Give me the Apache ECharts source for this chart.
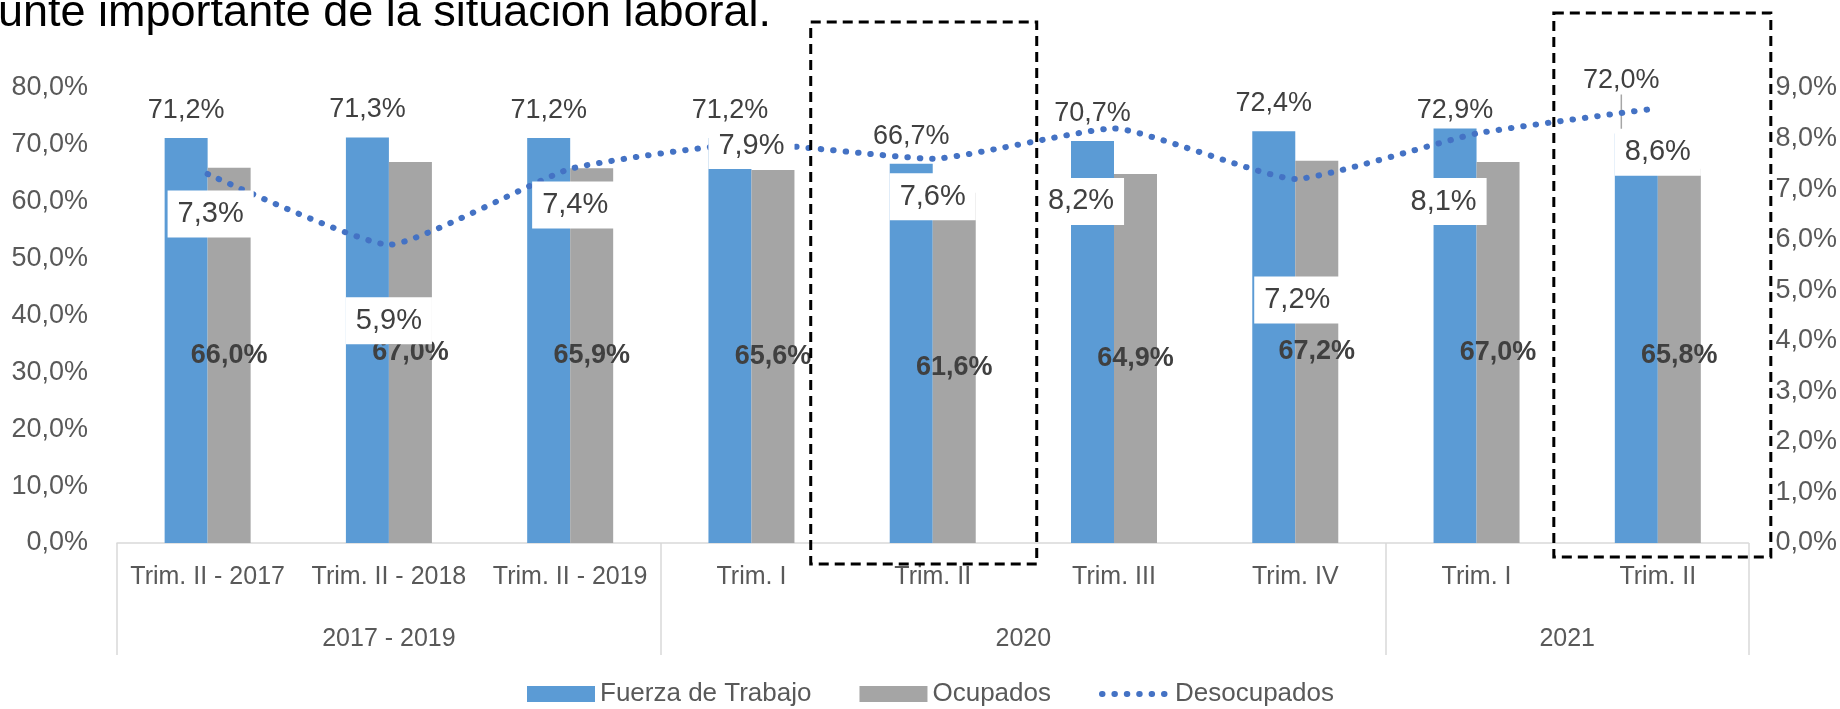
<!DOCTYPE html>
<html>
<head>
<meta charset="utf-8">
<script src="https://cdn.jsdelivr.net/npm/echarts@6/dist/echarts.min.js"></script>
<style>
  html, body { margin: 0; padding: 0; background: #fff; }
  #chart { width: 1840px; height: 709px; }
</style>
</head>
<body>
<div id="chart"></div>
<script>
// datos del gráfico
const categories = ['Trim. II - 2017', 'Trim. II - 2018', 'Trim. II - 2019', 'Trim. I', 'Trim. II', 'Trim. III', 'Trim. IV', 'Trim. I', 'Trim. II'];
const groupNames = ['2017 - 2019', '2020', '2021'];
const groupSizes = [3, 4, 2];
const fuerzaTrabajo = [71.2, 71.3, 71.2, 71.2, 66.7, 70.7, 72.4, 72.9, 72.0];
const ocupados = [66.0, 67.0, 65.9, 65.6, 61.6, 64.9, 67.2, 67.0, 65.8];
const desocupados = [7.3, 5.9, 7.4, 7.9, 7.6, 8.2, 7.2, 8.1, 8.6];
const leftTicks = [0, 10, 20, 30, 40, 50, 60, 70, 80];
const rightTicks = [0, 1, 2, 3, 4, 5, 6, 7, 8, 9];

// desplazamiento de las etiquetas (estilo, no datos)
const desocLabelOffset = [[3, 40], [0, 76], [5, 36], [0, 2], [0, 38], [-33, 73], [2, 121], [-33, 68], [0, 44]];

const NARROW = '"Liberation Sans Narrow", "Liberation Sans", Arial, sans-serif';
const SANS = '"Liberation Sans", Arial, sans-serif';
const DOTS = { color: '#4472C4', width: 6, type: [0.5, 11.9], cap: 'round' };

const fmt = v => v.toFixed(1).replace('.', ',') + '%';

// eje de grupos: medias categorías (boundaryGap false), 2*n + 1 posiciones
const groupAxis = new Array(categories.length * 2 + 1).fill('');
const sepIdx = [0];
let acc = 0;
groupSizes.forEach((n, i) => {
  groupAxis[acc * 2 + n] = groupNames[i];
  acc += n;
  sepIdx.push(acc * 2);
});

const chart = echarts.init(document.getElementById('chart'));

const option = {
  animation: false,
  textStyle: { fontFamily: SANS },
  title: {
    text: 'unte importante de la situación laboral.',
    left: -2,
    top: -9,
    padding: 0,
    textStyle: { fontFamily: SANS, fontSize: 45, fontWeight: 'normal', color: '#000' }
  },
  grid: { left: 117, right: 90, top: 88, bottom: 166 },
  legend: {
    top: 681,
    left: 527,
    padding: 0,
    itemWidth: 68,
    itemHeight: 16,
    itemGap: 48,
    textStyle: { fontFamily: SANS, fontSize: 26, color: '#595959' },
    data: [
      { name: 'Fuerza de Trabajo', icon: 'rect' },
      { name: 'Ocupados', icon: 'rect' },
      { name: 'Desocupados', itemStyle: { opacity: 0 }, lineStyle: DOTS }
    ]
  },
  xAxis: [
    {
      type: 'category',
      data: categories,
      axisLine: { lineStyle: { color: '#D9D9D9', width: 1.5 } },
      axisTick: { show: false },
      axisLabel: { interval: 0, margin: 22, fontFamily: SANS, fontSize: 25, color: '#595959' }
    },
    {
      type: 'category',
      data: groupAxis,
      position: 'bottom',
      boundaryGap: false,
      axisLine: { show: false },
      axisTick: {
        show: true,
        length: 112,
        interval: idx => sepIdx.indexOf(idx) >= 0,
        lineStyle: { color: '#D9D9D9', width: 1.5 }
      },
      axisLabel: { interval: 0, margin: 84, fontFamily: SANS, fontSize: 25, color: '#595959' }
    }
  ],
  yAxis: [
    {
      type: 'value',
      min: leftTicks[0],
      max: leftTicks[leftTicks.length - 1],
      interval: 10,
      splitLine: { show: false },
      axisLine: { show: false },
      axisTick: { show: false },
      axisLabel: { margin: 29, fontFamily: NARROW, fontSize: 27, color: '#595959', formatter: v => fmt(v) }
    },
    {
      type: 'value',
      min: rightTicks[0],
      max: rightTicks[rightTicks.length - 1],
      interval: 1,
      splitLine: { show: false },
      axisLine: { show: false },
      axisTick: { show: false },
      axisLabel: { margin: 27, fontFamily: NARROW, fontSize: 27, color: '#595959', formatter: v => fmt(v) }
    }
  ],
  series: [
    {
      name: 'Fuerza de Trabajo',
      type: 'bar',
      barWidth: 43,
      barGap: '0%',
      itemStyle: { color: '#5B9BD5' },
      data: fuerzaTrabajo.map((v, i) => i === fuerzaTrabajo.length - 1
        ? { value: v, labelLine: { show: true } }
        : v),
      label: {
        show: true,
        position: 'top',
        distance: 14,
        fontFamily: NARROW,
        fontSize: 27,
        color: '#404040',
        formatter: p => fmt(p.value)
      },
      labelLine: { show: false, lineStyle: { color: '#A6A6A6', width: 1.5 } },
      labelLayout: p => {
        if (p.dataIndex === 7) return { dy: 10 };
        if (p.dataIndex === 8) return { dx: -15, dy: -25 };
        return {};
      }
    },
    {
      name: 'Ocupados',
      type: 'bar',
      barWidth: 43,
      itemStyle: { color: '#A5A5A5' },
      data: ocupados,
      label: {
        show: true,
        position: 'inside',
        fontFamily: NARROW,
        fontSize: 27,
        fontWeight: 'bold',
        color: '#404040',
        formatter: p => fmt(p.value)
      }
    },
    {
      name: 'Desocupados',
      type: 'line',
      yAxisIndex: 1,
      smooth: 0.15,
      symbol: 'circle',
      symbolSize: 0.1,
      showSymbol: true,
      lineStyle: DOTS,
      itemStyle: { color: '#4472C4' },
      data: desocupados.map((v, i) => ({ value: v, label: { offset: desocLabelOffset[i] } })),
      label: {
        show: true,
        position: 'inside',
        fontFamily: NARROW,
        fontSize: 29,
        color: '#404040',
        backgroundColor: '#fff',
        padding: [9, 10],
        formatter: p => fmt(p.value)
      }
    }
  ]
};

chart.setOption(option);

// recuadros punteados alrededor de Trim. II 2020 y Trim. II 2021
function drawBoxes() {
  const y0 = chart.convertToPixel({ yAxisIndex: 0 }, 0);
  const yTop = chart.convertToPixel({ yAxisIndex: 0 }, 80);
  const boxes = [
    { idx: 4, l: -122, r: 104, t: -66, b: 21 },
    { idx: 8, l: -104, r: 113, t: -75, b: 14 }
  ];
  chart.setOption({
    graphic: boxes.map(b => {
      const cx = chart.convertToPixel({ xAxisIndex: 0 }, b.idx);
      return {
        type: 'rect',
        silent: true,
        z: 100,
        shape: { x: cx + b.l, y: yTop + b.t, width: b.r - b.l, height: (y0 + b.b) - (yTop + b.t) },
        style: { fill: 'none', stroke: '#000', lineWidth: 3, lineDash: [10, 6] }
      };
    })
  });
}
drawBoxes();
</script>
</body>
</html>
